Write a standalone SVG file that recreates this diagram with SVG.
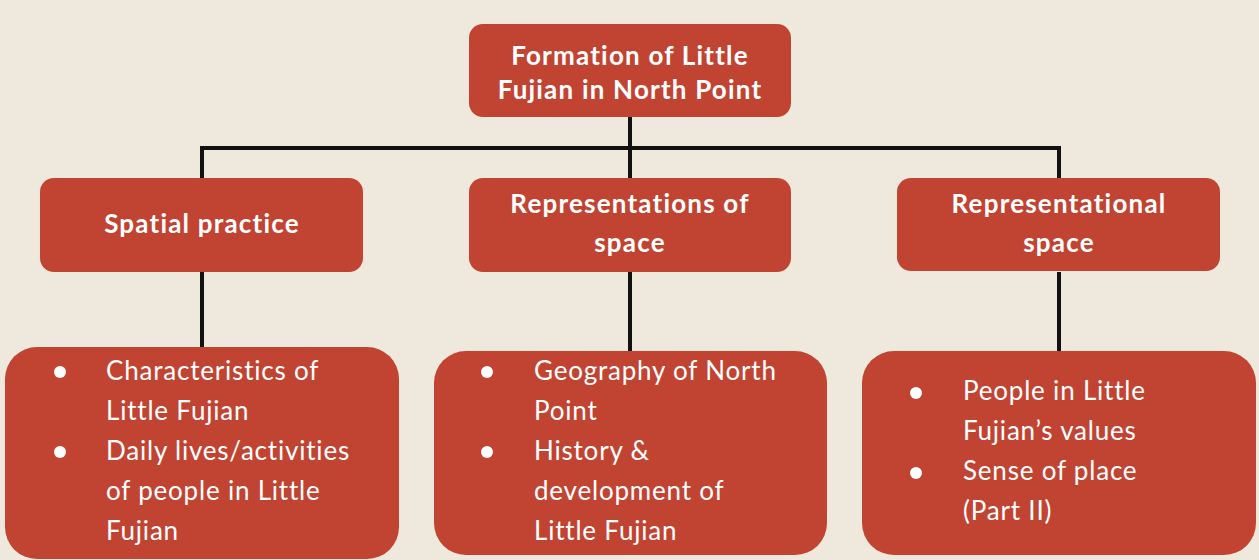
<svg xmlns="http://www.w3.org/2000/svg" width="1259" height="560" viewBox="0 0 1259 560">
<style>
.box{fill:#C14433}
.h{font-family:Lato,"Open Sans","Liberation Sans",sans-serif;font-weight:bold;font-size:26px;letter-spacing:1.2px;fill:#fff;text-anchor:middle}
.t{font-family:Lato,"Open Sans","Liberation Sans",sans-serif;font-size:26px;letter-spacing:0.8px;fill:#fff}
.b{fill:#fff}
.ln{stroke:#111;stroke-width:4;fill:none}
</style>
<rect width="1259" height="560" fill="#EFE8DC"/>
<g id="connectors">
<path class="ln" d="M630 117V178"/>
<path class="ln" d="M202 178V148H1059V178"/>
<path class="ln" d="M202 272V348"/>
<path class="ln" d="M630 272V352"/>
<path class="ln" d="M1059 272V352"/>
</g>
<g id="root">
<rect class="box" x="469" y="24" width="322" height="93" rx="14"/>
<text class="h" x="630" y="65">Formation of Little</text>
<text class="h" x="630" y="99">Fujian in North Point</text>
</g>
<g id="spatial">
<rect class="box" x="40" y="178" width="323" height="94" rx="14"/>
<text class="h" x="202" y="233">Spatial practice</text>
</g>
<g id="representations">
<rect class="box" x="469" y="178" width="322" height="94" rx="14"/>
<text class="h" x="630" y="213">Representations of</text>
<text class="h" x="630" y="252">space</text>
</g>
<g id="representational">
<rect class="box" x="897" y="178" width="323" height="93" rx="14"/>
<text class="h" x="1059" y="213">Representational</text>
<text class="h" x="1059" y="252">space</text>
</g>
<g id="list-spatial">
<rect class="box" x="5" y="347" width="394" height="212" rx="32"/>
<circle class="b" cx="60" cy="372" r="6"/>
<circle class="b" cx="60" cy="452" r="6"/>
<text class="t" x="106" y="380">Characteristics of</text>
<text class="t" x="106" y="420">Little Fujian</text>
<text class="t" x="106" y="460">Daily lives/activities</text>
<text class="t" x="106" y="500">of people in Little</text>
<text class="t" x="106" y="540">Fujian</text>
</g>
<g id="list-representations">
<rect class="box" x="434" y="351" width="393" height="204" rx="32"/>
<circle class="b" cx="487" cy="372" r="6"/>
<circle class="b" cx="487" cy="452" r="6"/>
<text class="t" x="534" y="380">Geography of North</text>
<text class="t" x="534" y="420">Point</text>
<text class="t" x="534" y="460">History &amp;</text>
<text class="t" x="534" y="500">development of</text>
<text class="t" x="534" y="540">Little Fujian</text>
</g>
<g id="list-representational">
<rect class="box" x="862" y="351" width="394" height="204" rx="32"/>
<circle class="b" cx="916" cy="393" r="6"/>
<circle class="b" cx="916" cy="473" r="6"/>
<text class="t" x="963" y="400">People in Little</text>
<text class="t" x="963" y="440">Fujian’s values</text>
<text class="t" x="963" y="480">Sense of place</text>
<text class="t" x="963" y="520">(Part II)</text>
</g>
</svg>
